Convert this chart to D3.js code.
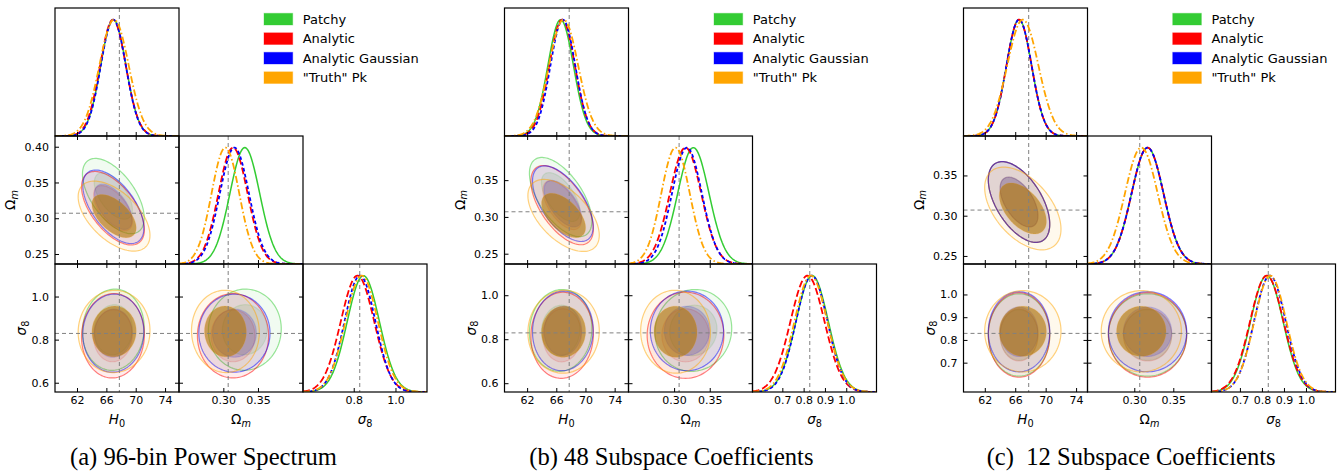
<!DOCTYPE html>
<html>
<head>
<meta charset="utf-8">
<script src="https://cdn.jsdelivr.net/npm/d3@7"></script>
<style>
  body { margin: 0; background: #fff; }
  svg text { font-family: "DejaVu Sans", sans-serif; fill: #000; }
</style>
</head>
<body>
<svg id="chart" width="1338" height="471"></svg>
<script>
// series, in drawing order
const seriesNames = ['Patchy', 'Analytic', 'Analytic Gaussian', '"Truth" Pk'];
const seriesColors = ['#33cc33', '#ff0000', '#0000ff', '#ffa500'];
const seriesDash = [null, '7,3', '3.5,2.5', '7,2.5,1.5,2.5'];
const innerAlpha = [0.1, 0.1, 0.17, 0.6];
const innerShade = [0.2, 0.2, 0.2, 0.3];

// parameters: H0, Omega_m, sigma_8
const truth = [67.77, 0.307, 0.8288];
const captions = ['(a) 96-bin Power Spectrum', '(b) 48 Subspace Coefficients', '(c)  12 Subspace Coefficients'];

// posterior summaries, one row per series: [H0, Om, s8]
const meanA = [[66.95, 0.331, 0.846], [66.9, 0.314, 0.818], [66.95, 0.316, 0.830], [67.05, 0.303, 0.838]];
const sdA = [[1.72, 0.0215, 0.077], [1.75, 0.021, 0.080], [1.70, 0.021, 0.074], [2.0, 0.020, 0.078]];
const corrA = [[-0.58, 0.05, 0.02], [-0.58, 0.03, 0.0], [-0.58, 0.03, 0.0], [-0.55, 0.02, -0.02]];

const meanB = [[66.6, 0.327, 0.840], [66.8, 0.316, 0.818], [66.9, 0.318, 0.838], [67.0, 0.302, 0.834]];
const sdB = [[1.75, 0.022, 0.076], [1.75, 0.022, 0.080], [1.70, 0.021, 0.074], [2.0, 0.020, 0.077]];
const corrB = [[-0.6, 0.05, 0.05], [-0.6, 0.03, 0.0], [-0.6, 0.03, 0.0], [-0.55, 0.02, -0.02]];

const meanC = [[66.5, 0.317, 0.822], [66.5, 0.317, 0.822], [66.5, 0.317, 0.836], [67.0, 0.309, 0.838]];
const sdC = [[1.65, 0.0205, 0.074], [1.65, 0.0205, 0.076], [1.65, 0.0205, 0.072], [2.05, 0.021, 0.073]];
const corrC = [[-0.55, 0.0, 0.0], [-0.55, 0.0, 0.0], [-0.55, 0.0, 0.0], [-0.5, 0.0, 0.0]];

// axis ranges and ticks per figure
const rangeA = [[59.0, 75.9], [0.236, 0.415], [0.557, 1.151]];
const rangeB = [[58.9, 75.9], [0.236, 0.410], [0.560, 1.142]];
const rangeC = [[59.2, 75.5], [0.240, 0.399], [0.571, 1.134]];
const xTicksA = [[62, 66, 70, 74], [0.30, 0.35], [0.8, 1.0]];
const yTicksA = [[], [0.25, 0.30, 0.35, 0.40], [0.6, 0.8, 1.0]];
const xTicksB = [[62, 66, 70, 74], [0.30, 0.35], [0.7, 0.8, 0.9, 1.0]];
const yTicksB = [[], [0.25, 0.30, 0.35], [0.6, 0.8, 1.0]];
const xTicksC = [[62, 66, 70, 74], [0.30, 0.35], [0.7, 0.8, 0.9, 1.0]];
const yTicksC = [[], [0.25, 0.30, 0.35], [0.7, 0.8, 0.9, 1.0]];

const figures = [
  { mean: meanA, sd: sdA, corr: corrA, range: rangeA, xTicks: xTicksA, yTicks: yTicksA },
  { mean: meanB, sd: sdB, corr: corrB, range: rangeB, xTicks: xTicksB, yTicks: yTicksB },
  { mean: meanC, sd: sdC, corr: corrC, range: rangeC, xTicks: xTicksC, yTicks: yTicksC },
];

const tickFormats = [d3.format('d'), d3.format('.2f'), d3.format('.1f')];
const labels = [
  [{ t: 'H', it: true }, { t: '0', sub: true }],
  [{ t: 'Ω' }, { t: 'm', it: true, sub: true }],
  [{ t: 'σ', it: true }, { t: '8', sub: true }],
];

// layout
const figLeft = [55, 504.5, 963.5];
const legendLeft = [264, 714, 1172.7];
const captionLeft = [70, 529.3, 986.7];
const topY = 8, cw = 124, rh = 128;
const levels = [2.448, 1.509]; // 95% and 68% in 2D
const outerAlpha = 0.07;

const svg = d3.select('#chart');
let clipId = 0;

function addLabel(sel, parts) {
  parts.forEach(p => {
    sel.append('tspan')
      .text(p.t)
      .attr('font-style', p.it ? 'italic' : null)
      .attr('font-size', p.sub ? '72%' : null)
      .attr('dy', p.sub ? '0.3em' : null);
  });
}

function ellipse(xs, ys, mx, my, sx, sy, r, k) {
  const pts = d3.range(0, 2 * Math.PI, Math.PI / 60).map(t => {
    const u = Math.cos(t), v = Math.sin(t);
    return [xs(mx + k * sx * u), ys(my + k * sy * (r * u + Math.sqrt(1 - r * r) * v))];
  });
  return d3.line().curve(d3.curveLinearClosed)(pts);
}

function frame(g) {
  g.append('rect')
    .attr('width', cw)
    .attr('height', rh)
    .attr('fill', 'none')
    .attr('stroke', '#000')
    .attr('stroke-width', 1.2);
}

function styleAxis(a) {
  a.select('.domain').remove();
  a.selectAll('.tick line').attr('stroke', '#000').attr('stroke-width', 1);
  a.selectAll('.tick text').attr('font-size', 11).attr('font-family', '"DejaVu Sans", sans-serif');
}

function clip(g) {
  const id = 'clip' + (clipId++);
  g.append('clipPath').attr('id', id)
    .append('rect').attr('width', cw).attr('height', rh);
  return g.append('g').attr('clip-path', `url(#${id})`);
}

figures.forEach((fig, f) => {
  const left = figLeft[f];

  for (let i = 0; i < 3; i++) {
    for (let j = 0; j <= i; j++) {
      const g = svg.append('g')
        .attr('transform', `translate(${left + j * cw},${topY + i * rh})`);
      const x = d3.scaleLinear().domain(fig.range[j]).range([0, cw]);
      const body = clip(g);

      if (i === j) {
        const y = d3.scaleLinear().domain([0, 1.1]).range([rh, 0]);
        const grid = d3.range(0, 161).map(k => fig.range[j][0] + (fig.range[j][1] - fig.range[j][0]) * k / 160);

        body.append('line')
          .attr('x1', x(truth[j])).attr('x2', x(truth[j]))
          .attr('y1', 0).attr('y2', rh)
          .attr('stroke', '#808080').attr('stroke-width', 1).attr('stroke-dasharray', '4,3');

        fig.mean.forEach((m, s) => {
          const mu = m[j], sd = fig.sd[s][j];
          body.append('path')
            .datum(grid)
            .attr('d', d3.line()
              .x(v => x(v))
              .y(v => y(Math.exp(-0.5 * ((v - mu) / sd) ** 2))))
            .attr('fill', 'none')
            .attr('stroke', seriesColors[s])
            .attr('stroke-width', s === 0 ? 1.5 : 1.8)
            .attr('stroke-dasharray', seriesDash[s]);
        });

        const ax = g.append('g').attr('transform', `translate(0,${rh})`)
          .call(d3.axisBottom(x).tickValues(fig.xTicks[j]).tickSize(-4).tickSizeOuter(0).tickPadding(4)
            .tickFormat(i === 2 ? tickFormats[j] : ''));
        styleAxis(ax);
      } else {
        const y = d3.scaleLinear().domain(fig.range[i]).range([rh, 0]);
        const pair = j === 0 ? (i === 1 ? 0 : 1) : 2;

        fig.mean.forEach((m, s) => {
          const sx = fig.sd[s][j], sy = fig.sd[s][i], r = fig.corr[s][pair];
          const c = seriesColors[s];
          const dark = d3.interpolateRgb(c, '#000')(innerShade[s]);
          levels.forEach((k, l) => {
            body.append('path')
              .attr('d', ellipse(x, y, m[j], m[i], sx, sy, r, k))
              .attr('fill', l === 0 ? c : dark)
              .attr('fill-opacity', l === 0 ? outerAlpha : innerAlpha[s])
              .attr('stroke', c)
              .attr('stroke-opacity', l === 0 ? 0.5 : 0.15)
              .attr('stroke-width', 1.2);
          });
        });

        body.append('line')
          .attr('x1', x(truth[j])).attr('x2', x(truth[j]))
          .attr('y1', 0).attr('y2', rh)
          .attr('stroke', '#808080').attr('stroke-width', 1).attr('stroke-dasharray', '4,3');
        body.append('line')
          .attr('x1', 0).attr('x2', cw)
          .attr('y1', y(truth[i])).attr('y2', y(truth[i]))
          .attr('stroke', '#808080').attr('stroke-width', 1).attr('stroke-dasharray', '4,3');

        const ab = g.append('g').attr('transform', `translate(0,${rh})`)
          .call(d3.axisBottom(x).tickValues(fig.xTicks[j]).tickSize(-4).tickSizeOuter(0).tickPadding(4)
            .tickFormat(i === 2 ? tickFormats[j] : ''));
        const at = g.append('g')
          .call(d3.axisTop(x).tickValues(fig.xTicks[j]).tickSize(-4).tickSizeOuter(0).tickFormat(''));
        const al = g.append('g')
          .call(d3.axisLeft(y).tickValues(fig.yTicks[i]).tickSize(-4).tickSizeOuter(0).tickPadding(6)
            .tickFormat(j === 0 ? tickFormats[i] : ''));
        const ar = g.append('g').attr('transform', `translate(${cw},0)`)
          .call(d3.axisRight(y).tickValues(fig.yTicks[i]).tickSize(-4).tickSizeOuter(0).tickFormat(''));
        [ab, at, al, ar].forEach(styleAxis);
      }
      frame(g);
    }
  }

  // axis labels
  labels.forEach((parts, p) => {
    const t = svg.append('text')
      .attr('x', left + p * cw + cw / 2)
      .attr('y', 424)
      .attr('text-anchor', 'middle')
      .attr('font-size', 13.5);
    addLabel(t, parts);
  });
  [1, 2].forEach(p => {
    const t = svg.append('text')
      .attr('transform', `translate(${left - (p === 1 ? 40 : 29)},${topY + p * rh + rh / 2}) rotate(-90)`)
      .attr('text-anchor', 'middle')
      .attr('font-size', 13.5);
    addLabel(t, labels[p]);
  });

  // legend
  const lg = svg.append('g').attr('transform', `translate(${legendLeft[f]},0)`);
  seriesNames.forEach((name, s) => {
    const cy = 19.2 + s * 19.5;
    lg.append('rect')
      .attr('x', 0).attr('y', cy - 5.9)
      .attr('width', 28.7).attr('height', 11.7)
      .attr('fill', seriesColors[s])
      .attr('stroke', seriesColors[s]).attr('stroke-opacity', 0.35).attr('stroke-width', 1);
    lg.append('text')
      .attr('x', 38.7).attr('y', cy)
      .attr('dy', '0.36em')
      .attr('font-size', 13)
      .text(name);
  });
});

// captions, sized so that (a) spans its measured width
const capText = captions.map((c, f) => svg.append('text')
  .attr('x', captionLeft[f])
  .attr('y', 465)
  .style('font-family', '"Liberation Serif", serif')
  .attr('font-size', 20)
  .style('white-space', 'pre')
  .text(c));
const wA = capText[0].node().getComputedTextLength();
const capSize = 20 * 267 / wA;
capText.forEach(t => t.attr('font-size', capSize));
</script>
</body>
</html>
